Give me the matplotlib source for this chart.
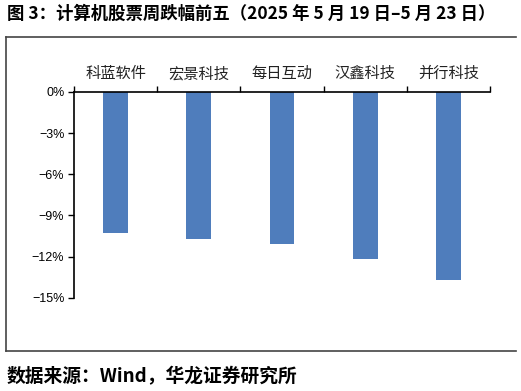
import matplotlib
matplotlib.use('Agg')
import matplotlib.pyplot as plt
import numpy as np
from matplotlib.lines import Line2D
from matplotlib.ticker import FuncFormatter

plt.rcParams['font.family'] = ['Noto Sans CJK SC', 'DejaVu Sans']

# data
stocks = ['科蓝软件', '宏景科技', '每日互动', '汉鑫科技', '并行科技']
weekly_change = [-10.3, -10.7, -11.1, -12.2, -13.7]   # %
yticks = [0, -3, -6, -9, -12, -15]

title = '图 3：计算机股票周跌幅前五（2025 年 5 月 19 日–5 月 23 日）'
source = '数据来源：Wind，华龙证券研究所'

W, H = 521, 391
fig = plt.figure(figsize=(W / 100, H / 100), dpi=100)

# axes: x 74..490 px, y 92 (0%) .. 297.7 (-15%)
ax = fig.add_axes([74 / W, 1 - 297.7 / H, (490 - 74) / W, (297.7 - 92) / H])
x = np.arange(len(stocks))
ax.bar(x, weekly_change, width=0.3, color='#4f7dbc', zorder=2)
ax.set_xlim(-0.5, len(stocks) - 0.5)
ax.set_ylim(-15, 0)
ax.set_yticks(yticks)
ax.yaxis.set_major_formatter(FuncFormatter(lambda v, p: '{:d}%'.format(int(round(v))).replace('-', '−')))
ax.tick_params(axis='y', length=4, width=1, labelsize=9, pad=3, colors='black')
for lab in ax.get_yticklabels():
    lab.set_family(['Liberation Sans', 'DejaVu Sans'])

# category ticks at the top edge, pointing up
ax.set_xticks(np.arange(len(stocks) + 1) - 0.5)
ax.set_xticklabels([])
ax.tick_params(axis='x', bottom=False, top=True, direction='out', length=4, width=1)
ax.spines['right'].set_visible(False)
ax.spines['bottom'].set_visible(False)
ax.spines['top'].set_linewidth(1.2)
ax.spines['left'].set_linewidth(1.2)

for i, name in enumerate(stocks):
    ax.text(i, 1.09, name, transform=ax.get_xaxis_transform(),
            ha='center', va='center', fontsize=11, color='#222222')

# outer frame (left, top, bottom)
c = '#444444'
fig.add_artist(Line2D([6 / W, 516 / W], [1 - 37 / H, 1 - 37 / H], color=c, lw=1.2))
fig.add_artist(Line2D([6 / W, 516 / W], [1 - 351 / H, 1 - 351 / H], color=c, lw=1.2))
fig.add_artist(Line2D([6 / W, 6 / W], [1 - 37 / H, 1 - 351 / H], color=c, lw=1.2))

fig.text(7 / W, 1 - 14 / H, title, ha='left', va='center', fontsize=12.5, fontweight='bold')
fig.text(7 / W, 1 - 377 / H, source, ha='left', va='center', fontsize=13.5, fontweight='bold')

fig.savefig('out.png', dpi=100)
